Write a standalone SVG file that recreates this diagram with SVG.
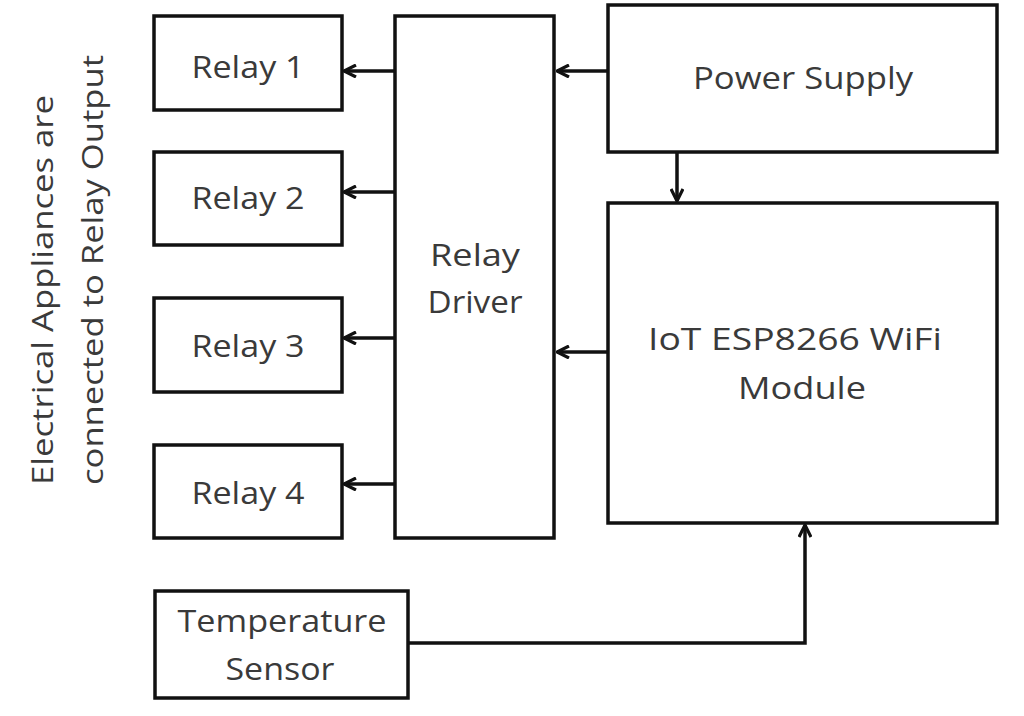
<svg xmlns="http://www.w3.org/2000/svg" width="1024" height="716" viewBox="0 0 1024 716">
<style>
.box{fill:#fff;stroke:#111;stroke-width:3.5}
.lbl{font-family:"Open Sans","Liberation Sans",sans-serif;font-size:31px;fill:#3a3a3a;text-anchor:middle}
.side{font-family:"Open Sans","Liberation Sans",sans-serif;font-size:30px;fill:#3a3a3a}
.con{fill:none;stroke:#111;stroke-width:3.5}
</style>
<defs>
<marker id="arr" viewBox="0 0 14 14" refX="13" refY="7" markerWidth="14" markerHeight="14" markerUnits="userSpaceOnUse" orient="auto">
<path d="M1,1 L13,7 L1,13" fill="none" stroke="#111" stroke-width="3.2"/>
</marker>
</defs>
<rect width="1024" height="716" fill="#fff"/>
<g id="relay1"><rect class="box" x="154" y="16" width="188" height="94"/><text class="lbl" x="248" y="78" textLength="113" lengthAdjust="spacingAndGlyphs">Relay 1</text></g>
<g id="relay2"><rect class="box" x="154" y="152" width="188" height="93"/><text class="lbl" x="248" y="209" textLength="113" lengthAdjust="spacingAndGlyphs">Relay 2</text></g>
<g id="relay3"><rect class="box" x="154" y="298" width="188" height="94"/><text class="lbl" x="248" y="357" textLength="113" lengthAdjust="spacingAndGlyphs">Relay 3</text></g>
<g id="relay4"><rect class="box" x="154" y="445" width="188" height="93"/><text class="lbl" x="248" y="504" textLength="113" lengthAdjust="spacingAndGlyphs">Relay 4</text></g>
<g id="driver"><rect class="box" x="395" y="16" width="159" height="522"/><text class="lbl" x="475" y="266" textLength="90" lengthAdjust="spacingAndGlyphs">Relay</text><text class="lbl" x="475" y="313" textLength="95" lengthAdjust="spacingAndGlyphs">Driver</text></g>
<g id="power"><rect class="box" x="608" y="5" width="389" height="147"/><text class="lbl" x="803" y="89" textLength="220" lengthAdjust="spacingAndGlyphs">Power Supply</text></g>
<g id="iot"><rect class="box" x="608" y="203" width="389" height="320"/><text class="lbl" x="795" y="350" textLength="294" lengthAdjust="spacingAndGlyphs">IoT ESP8266 WiFi</text><text class="lbl" x="802" y="399" textLength="128" lengthAdjust="spacingAndGlyphs">Module</text></g>
<g id="temp"><rect class="box" x="155" y="591" width="253" height="107"/><text class="lbl" x="282" y="632" textLength="209" lengthAdjust="spacingAndGlyphs">Temperature</text><text class="lbl" x="280" y="680" textLength="109" lengthAdjust="spacingAndGlyphs">Sensor</text></g>
<g id="note"><text class="side" transform="translate(53,485) rotate(-90)" textLength="390" lengthAdjust="spacingAndGlyphs">Electrical Appliances are</text><text class="side" transform="translate(103,485) rotate(-90)" textLength="430" lengthAdjust="spacingAndGlyphs">connected to Relay Output</text></g>
<g id="connectors">
<line class="con" x1="395" y1="71" x2="344" y2="71" marker-end="url(#arr)"/>
<line class="con" x1="395" y1="192" x2="344" y2="192" marker-end="url(#arr)"/>
<line class="con" x1="395" y1="338" x2="344" y2="338" marker-end="url(#arr)"/>
<line class="con" x1="395" y1="484" x2="344" y2="484" marker-end="url(#arr)"/>
<line class="con" x1="608" y1="71" x2="557" y2="71" marker-end="url(#arr)"/>
<line class="con" x1="608" y1="352" x2="557" y2="352" marker-end="url(#arr)"/>
<line class="con" x1="677" y1="152" x2="677" y2="201" marker-end="url(#arr)"/>
<polyline class="con" points="408,643 805,643 805,525" marker-end="url(#arr)"/>
</g>
</svg>
